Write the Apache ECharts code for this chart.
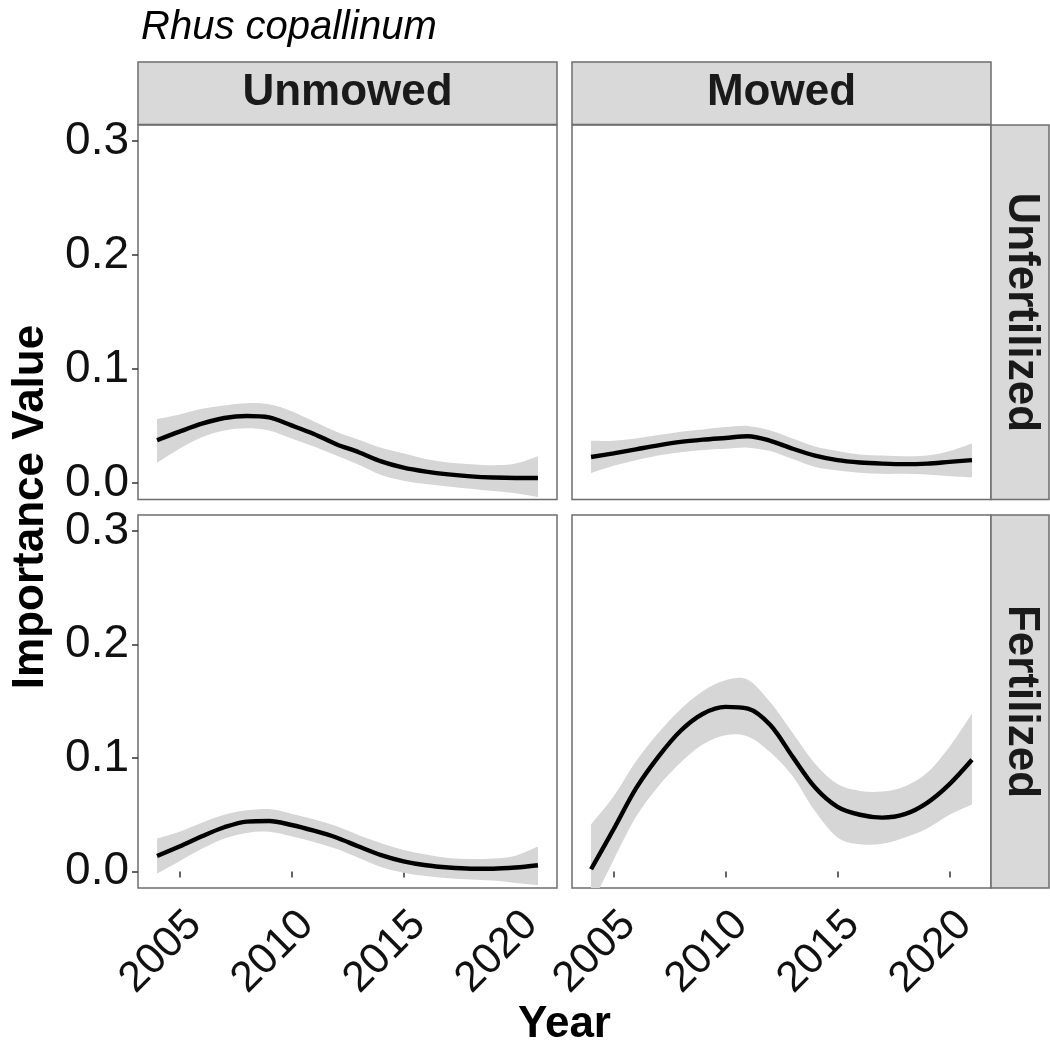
<!DOCTYPE html>
<html>
<head>
<meta charset="utf-8">
<script src="https://cdn.jsdelivr.net/npm/echarts@6/dist/echarts.min.js"></script>
<style>html,body{margin:0;padding:0;background:#fff}#c{width:1050px;height:1048px}</style>
</head>
<body>
<div id="c"></div>
<script>
// ---------- data ----------
const years = [2004,2005,2006,2007,2008,2009,2010,2011,2012,2013,2014,2015,2016,2017,2018,2019,2020,2021];
const colLabels = ['Unmowed', 'Mowed'];
const rowLabels = ['Unfertilized', 'Fertilized'];
const yTicks = [0, 0.1, 0.2, 0.3];
const xTicks = [2005, 2010, 2015, 2020];

// Unmowed / Unfertilized
const fitUU   = [0.0375,0.045,0.052,0.057,0.0588,0.0575,0.0505,0.043,0.034,0.027,0.019,0.0135,0.010,0.0075,0.0058,0.0048,0.0044,0.0044];
const upperUU = [0.056,0.060,0.065,0.068,0.070,0.069,0.063,0.054,0.045,0.038,0.031,0.026,0.021,0.018,0.0165,0.0155,0.017,0.0234];
const lowerUU = [0.0176,0.030,0.040,0.046,0.048,0.046,0.039,0.032,0.024,0.016,0.007,0.002,-0.001,-0.003,-0.005,-0.007,-0.009,-0.0123];
// Mowed / Unfertilized
const fitMU   = [0.0228,0.026,0.0295,0.033,0.036,0.038,0.0395,0.041,0.037,0.030,0.024,0.020,0.018,0.017,0.0165,0.017,0.0185,0.020];
const upperMU = [0.037,0.037,0.039,0.042,0.045,0.047,0.049,0.050,0.046,0.039,0.032,0.028,0.025,0.024,0.0235,0.024,0.028,0.0346];
const lowerMU = [0.0085,0.015,0.020,0.024,0.027,0.029,0.030,0.031,0.028,0.021,0.014,0.011,0.009,0.008,0.008,0.0075,0.006,0.005];
// Unmowed / Fertilized
const fitUF   = [0.0137,0.022,0.031,0.039,0.044,0.0445,0.041,0.036,0.030,0.022,0.0145,0.009,0.0055,0.0035,0.0025,0.0025,0.0035,0.0055];
const upperUF = [0.029,0.035,0.043,0.050,0.054,0.055,0.051,0.046,0.040,0.032,0.025,0.019,0.015,0.012,0.011,0.0115,0.014,0.022];
const lowerUF = [-0.002,0.009,0.020,0.029,0.034,0.035,0.031,0.026,0.020,0.012,0.004,-0.001,-0.004,-0.006,-0.007,-0.008,-0.010,-0.012];
// Mowed / Fertilized
const fitMF   = [0.002,0.037,0.073,0.101,0.124,0.139,0.145,0.1435,0.129,0.101,0.074,0.057,0.050,0.0475,0.0505,0.0605,0.077,0.0984];
const upperMF = [0.0415,0.066,0.097,0.122,0.143,0.159,0.1685,0.169,0.149,0.122,0.095,0.077,0.071,0.0705,0.075,0.087,0.110,0.139];
const lowerMF = [-0.03,0.010,0.048,0.075,0.096,0.112,0.120,0.119,0.105,0.084,0.053,0.030,0.024,0.0245,0.030,0.038,0.050,0.059];

// ---------- layout ----------
const FONT = 'Liberation Sans, Arial, Helvetica, sans-serif';
const colX = [138, 572];
const panelW = 419;
const rowY = [125, 515];
const panelH = [374.5, 373];
const stripTop = 62, stripH = 62.5;
const rStripX = 991, rStripW = 58;
const BORDER = '#6e6e6e';
const STRIPFILL = '#d9d9d9';
const RIBBON = '#d6d6d6';

const panels = [
  {r:0,c:0,fit:fitUU,up:upperUU,lo:lowerUU},
  {r:0,c:1,fit:fitMU,up:upperMU,lo:lowerMU},
  {r:1,c:0,fit:fitUF,up:upperUF,lo:lowerUF},
  {r:1,c:1,fit:fitMF,up:upperMF,lo:lowerMF}
];

// Catmull-Rom -> cubic bezier path segments through screen points
function curveSegs(P) {
  let s = '';
  const n = P.length;
  for (let i = 0; i < n - 1; i++) {
    const p0 = P[Math.max(i - 1, 0)], p1 = P[i], p2 = P[i + 1], p3 = P[Math.min(i + 2, n - 1)];
    const c1x = p1[0] + (p2[0] - p0[0]) / 6, c1y = p1[1] + (p2[1] - p0[1]) / 6;
    const c2x = p2[0] - (p3[0] - p1[0]) / 6, c2y = p2[1] - (p3[1] - p1[1]) / 6;
    s += ' C' + c1x + ' ' + c1y + ' ' + c2x + ' ' + c2y + ' ' + p2[0] + ' ' + p2[1];
  }
  return s;
}

const grid = [], xAxis = [], yAxis = [], series = [];
panels.forEach((p, i) => {
  grid.push({left: colX[p.c], top: rowY[p.r], width: panelW, height: panelH[p.r],
    show: true, borderColor: BORDER, borderWidth: 1.5, backgroundColor: '#fff', containLabel: false});
  const showX = p.r === 1, showY = p.c === 0;
  xAxis.push({type: 'value', gridIndex: i, min: 2003.15, max: 2021.85,
    axisLine: {show: false}, splitLine: {show: false},
    axisTick: {show: showX, customValues: xTicks, length: 6, lineStyle: {color: '#333', width: 1.5}},
    axisLabel: {show: showX, customValues: xTicks, rotate: 45, margin: 15, fontSize: 43, color: '#111', fontFamily: FONT,
      align: 'right', verticalAlign: 'top', formatter: v => String(v)}
  });
  yAxis.push({type: 'value', gridIndex: i, min: -0.0145, max: 0.314,
    axisLine: {show: false}, splitLine: {show: false},
    axisTick: {show: showY, customValues: yTicks, length: 6, lineStyle: {color: '#333', width: 1.5}},
    axisLabel: {show: showY, customValues: yTicks, margin: 9, fontSize: 46, color: '#111', fontFamily: FONT,
      formatter: v => v.toFixed(1)}
  });
  // ribbon (confidence band) via custom series using the axes' coordinate mapping
  series.push({type: 'custom', xAxisIndex: i, yAxisIndex: i, clip: true, silent: true, z: 1,
    data: [[years[0], p.fit[0]]],
    renderItem: (params, api) => {
      const U = years.map((y, k) => api.coord([y, p.up[k]]));
      const L = years.map((y, k) => api.coord([y, p.lo[k]])).reverse();
      const d = 'M' + U[0][0] + ' ' + U[0][1] + curveSegs(U) +
                ' L' + L[0][0] + ' ' + L[0][1] + curveSegs(L) + ' Z';
      return {type: 'path', shape: {pathData: d}, style: {fill: RIBBON, stroke: null}};
    }
  });
  series.push({type: 'line', xAxisIndex: i, yAxisIndex: i, data: years.map((y, k) => [y, p.fit[k]]),
    smooth: 0.33, symbol: 'none', lineStyle: {color: '#000', width: 4.4, cap: 'butt'}, silent: true, z: 3});
});

const graphic = [];
colLabels.forEach((t, c) => {
  graphic.push({type: 'rect', shape: {x: colX[c], y: stripTop, width: panelW, height: stripH},
    style: {fill: STRIPFILL, stroke: BORDER, lineWidth: 1.5}});
  graphic.push({type: 'text', x: colX[c] + panelW / 2, y: stripTop + stripH / 2,
    style: {text: t, font: 'bold 44px ' + FONT, fill: '#1a1a1a', align: 'center', verticalAlign: 'middle'}});
});
rowLabels.forEach((t, r) => {
  graphic.push({type: 'rect', shape: {x: rStripX, y: rowY[r], width: rStripW, height: panelH[r]},
    style: {fill: STRIPFILL, stroke: BORDER, lineWidth: 1.5}});
  graphic.push({type: 'text', x: rStripX + rStripW / 2 + 1, y: rowY[r] + panelH[r] / 2, rotation: -Math.PI / 2,
    style: {text: t, font: 'bold 44px ' + FONT, fill: '#1a1a1a', align: 'center', verticalAlign: 'middle'}});
});
graphic.push({type: 'text', x: 141, y: 28,
  style: {text: 'Rhus copallinum', font: 'italic 40px ' + FONT, fill: '#000', align: 'left', verticalAlign: 'middle'}});
graphic.push({type: 'text', x: 31, y: 507, rotation: Math.PI / 2,
  style: {text: 'Importance Value', font: 'bold 44px ' + FONT, fill: '#000', align: 'center', verticalAlign: 'middle'}});
graphic.push({type: 'text', x: 564.5, y: 1025,
  style: {text: 'Year', font: 'bold 44px ' + FONT, fill: '#000', align: 'center', verticalAlign: 'middle'}});

const chart = echarts.init(document.getElementById('c'), null, {renderer: 'canvas'});
chart.setOption({animation: false, backgroundColor: '#fff', grid, xAxis, yAxis, series, graphic});
</script>
</body>
</html>
